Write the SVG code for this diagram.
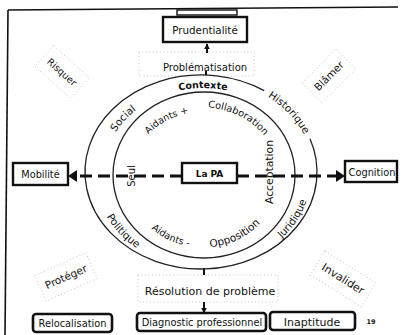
<svg xmlns="http://www.w3.org/2000/svg" width="403" height="335" viewBox="0 0 403 335">
  <style>
    text { font-family: "DejaVu Sans", "Liberation Sans", sans-serif; fill: #111; }
    .box { fill: #fff; stroke: #111; stroke-width: 2.4; }
    .rbox { fill: #fff; stroke: #111; stroke-width: 2.6; }
    .ring { fill: none; stroke: #222; stroke-width: 1.3; }
    .faint { fill: none; stroke: #c4c4c4; stroke-width: 0.9; stroke-dasharray: 1 2.5; }
    .lbl { font-size: 10px; }
    .ring-lbl { font-size: 10.3px; }
    .dash { stroke: #111; stroke-width: 3.2; stroke-dasharray: 12 6; fill: none; }
    .shaft { stroke: #111; stroke-width: 2; }
  </style>
  <defs>
    <marker id="head" viewBox="0 0 10 10" refX="9" refY="5" markerWidth="3" markerHeight="3" orient="auto" markerUnits="strokeWidth">
      <path d="M0,0 L10,5 L0,10 z" fill="#111"/>
    </marker>
    <!-- baselines for the curved labels -->
    <path id="p-contexte" d="M153,99.5 A100,86 0 0 1 253,99.5"/>
    <path id="p-social" d="M105.6,154.6 A100,86 0 0 1 157.6,97.4"/>
    <path id="p-historique" d="M253.8,89.5 A112.5,93.5 0 0 1 308,143.1"/>
    <path id="p-politique" d="M98.2,196.7 A108,94 0 0 0 155.7,258.5"/>
    <path id="p-juridique" d="M265,251 A108,94 0 0 0 310.8,180.6"/>
    <path id="p-aidplus" d="M144.8,138.4 A71,62 0 0 1 194.3,112.4"/>
    <path id="p-collab" d="M206.3,107.6 A75,66.5 0 0 1 269.5,143.3"/>
    <path id="p-aidmoins" d="M145.4,222.8 A77,73.5 0 0 0 197.1,247.3"/>
    <path id="p-opposition" d="M205.3,247.5 A77,73.5 0 0 0 263.4,219.6"/>
  </defs>

  <rect width="403" height="335" fill="#fff"/>

  <!-- page frame -->
  <g id="frame" fill="none" stroke="#111">
    <path d="M8,10 L398,7" stroke-width="1.6"/>
    <path d="M8,10 L5,335" stroke-width="1.6"/>
    <rect x="177" y="10" width="60" height="5" stroke-width="1.4"/>
  </g>

  <!-- light dotted text frames -->
  <g id="text-frames">
    <rect class="faint" x="139" y="52" width="115" height="24"/>
    <rect class="faint" x="138" y="275" width="140" height="27"/>
    <rect class="faint" x="-24" y="-14" width="48" height="28" transform="translate(62,72) rotate(42)"/>
    <rect class="faint" x="-24" y="-14" width="48" height="28" transform="translate(329,76) rotate(-45)"/>
    <rect class="faint" x="-28" y="-14" width="56" height="28" transform="translate(66,277) rotate(-24)"/>
    <rect class="faint" x="-30" y="-14" width="60" height="28" transform="translate(343,279) rotate(32)"/>
  </g>

  <!-- rings: the outer one opens where "Historique" sits -->
  <g id="rings">
    <path class="ring" d="M310,138.8 A116,97 0 1 1 264.2,90.65"/>
    <ellipse class="ring" cx="204" cy="175" rx="91" ry="83"/>
  </g>

  <!-- connectors -->
  <g id="connectors">
    <line class="shaft" x1="207" y1="53" x2="207" y2="44" marker-end="url(#head)"/>
    <line x1="206" y1="71" x2="206" y2="75" stroke="#111" stroke-width="2"/>
    <line x1="204" y1="268" x2="204" y2="275" stroke="#111" stroke-width="2"/>
    <line class="shaft" x1="204" y1="302" x2="204" y2="313" marker-end="url(#head)"/>
    <path class="dash" d="M182,176 L76,176"/>
    <path d="M77,170 L68,176 L77,182 z" fill="#111"/>
    <path class="dash" d="M237,176 L337,176"/>
    <path d="M336,170 L345,176 L336,182 z" fill="#111"/>
  </g>

  <!-- labels on and inside the rings -->
  <g id="ring-labels">
    <text font-size="9.5" font-weight="bold"><textPath href="#p-contexte" startOffset="50%" text-anchor="middle">Contexte</textPath></text>
    <text class="ring-lbl"><textPath href="#p-social" startOffset="50%" text-anchor="middle">Social</textPath></text>
    <text class="ring-lbl"><textPath href="#p-historique" startOffset="54%" text-anchor="middle">Historique</textPath></text>
    <text class="ring-lbl"><textPath href="#p-politique" startOffset="50%" text-anchor="middle">Politique</textPath></text>
    <text class="ring-lbl"><textPath href="#p-juridique" startOffset="50%" text-anchor="middle">Juridique</textPath></text>
    <text font-size="9.4"><textPath href="#p-aidplus" startOffset="50%" text-anchor="middle">Aidants +</textPath></text>
    <text font-size="9.7"><textPath href="#p-collab" startOffset="45%" text-anchor="middle">Collaboration</textPath></text>
    <text font-size="9.5"><textPath href="#p-aidmoins" startOffset="50%" text-anchor="middle">Aidants -</textPath></text>
    <text font-size="10.5"><textPath href="#p-opposition" startOffset="50%" text-anchor="middle">Opposition</textPath></text>
    <text font-size="10" text-anchor="middle" transform="translate(134.5,176) rotate(-90)">Seul</text>
    <text font-size="10.8" text-anchor="middle" transform="translate(273,172) rotate(-90)">Acceptation</text>
  </g>

  <!-- corner verbs -->
  <g id="verbs" class="lbl" text-anchor="middle">
    <text font-size="9.5" transform="translate(62,72) rotate(42)" dy="3.5">Risquer</text>
    <text font-size="10.3" transform="translate(329,76) rotate(-45)" dy="3.5">Blâmer</text>
    <text font-size="10.5" transform="translate(66,277) rotate(-24)" dy="3.5">Protéger</text>
    <text font-size="11" transform="translate(343,279) rotate(32)" dy="3.5">Invalider</text>
  </g>

  <g id="problematisation">
    <text font-size="10" x="205" y="71" text-anchor="middle">Problématisation</text>
  </g>
  <g id="resolution">
    <text font-size="11" x="210" y="295" text-anchor="middle">Résolution de problème</text>
  </g>

  <g id="prudentialite">
    <rect class="box" x="163" y="17" width="84" height="25"/>
    <text font-size="10.3" x="205" y="33.5" text-anchor="middle">Prudentialité</text>
  </g>

  <g id="mobilite">
    <rect class="box" x="13" y="163" width="55" height="22"/>
    <text font-size="9.7" x="40.5" y="178" text-anchor="middle">Mobilité</text>
  </g>

  <g id="la-pa">
    <rect class="box" x="182" y="163" width="55" height="20"/>
    <text font-size="9" font-weight="bold" x="209.5" y="177" text-anchor="middle">La PA</text>
  </g>

  <g id="cognition">
    <rect class="box" x="345" y="161" width="52" height="21"/>
    <text font-size="9.8" x="372" y="175.5" text-anchor="middle">Cognition</text>
  </g>

  <g id="relocalisation">
    <rect class="rbox" x="33" y="314" width="79" height="18" rx="3"/>
    <text font-size="9.8" x="72.5" y="327" text-anchor="middle">Relocalisation</text>
  </g>

  <g id="diagnostic">
    <rect class="rbox" x="137" y="313" width="129" height="18" rx="3"/>
    <text font-size="9.8" x="202" y="326" text-anchor="middle">Diagnostic professionnel</text>
  </g>

  <g id="inaptitude">
    <rect class="rbox" x="270" y="312" width="85" height="18" rx="3"/>
    <text font-size="11" x="312" y="325.5" text-anchor="middle">Inaptitude</text>
  </g>

  <text font-size="6.5" font-weight="bold" x="371" y="324" text-anchor="middle">19</text>
</svg>
